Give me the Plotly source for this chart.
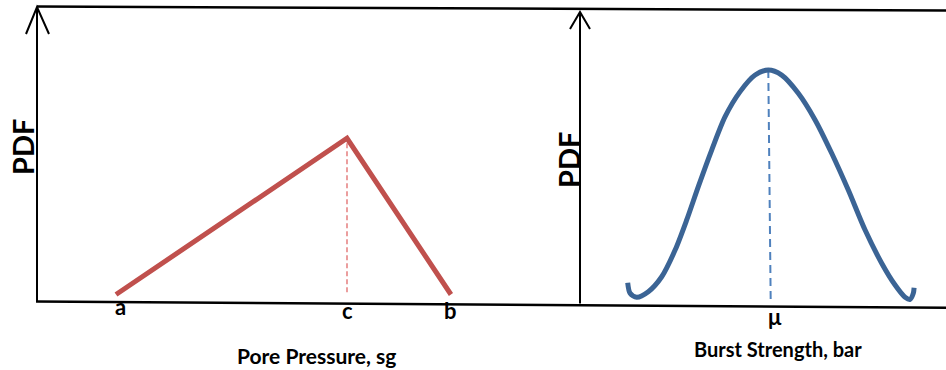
import plotly.graph_objects as go

# ---------------- data ----------------
# Left panel: triangular PDF of pore pressure
pore_labels = ["a", "c", "b"]
pore_sg = [1.00, 1.50, 1.725]          # a, c (mode), b  [sg]
pore_pdf = [0.0, 2.8, 0.0]             # PDF at a, c, b

# Right panel: bell-shaped PDF of burst strength (hand drawn curve)
burst_bar = [529.7, 530.9, 534.2, 540.0, 546.7, 553.4, 559.2, 565.0, 571.7,
             578.4, 585.9, 593.4, 600.0, 606.7, 615.0, 623.4, 631.7, 640.0,
             648.4, 656.7, 663.4, 668.4, 670.9, 672.5, 672.9]
burst_pdf = [0.075, 0.029, 0.012, 0.036, 0.101, 0.217, 0.348, 0.493, 0.652,
             0.797, 0.906, 0.978, 1.000, 0.978, 0.899, 0.783, 0.638, 0.478,
             0.304, 0.160, 0.065, 0.012, 0.003, 0.029, 0.053]
burst_mu = 600.0
burst_mu_pdf = 1.0
burst_label = "μ"

x_titles = ["Pore Pressure, sg", "Burst Strength, bar"]
y_title = "PDF"

# ---------------- layout helpers ----------------
W, H = 946, 370
def px(x):
    return x / W
def py(y):
    return 1 - y / H

RED = "#C0504D"
RED_DASH = "#E06A6A"
BLUE = "#3B6495"
BLUE_DASH = "#4F81BD"
FONT = "Lato"

# scales (pixels per unit) for the two panels
l_x0px, l_xscale = 116.0, 462.0      # pixel of a, px per sg
l_y0px, l_yscale = 294.5, 55.8       # pixel of pdf=0, px per unit
r_x0px, r_xscale = 768.3, 2.0        # pixel of mu, px per bar
r_y0px, r_yscale = 300.0, 230.0

lx_range = [pore_sg[0] + (0 - l_x0px) / l_xscale, pore_sg[0] + (W / 2 - l_x0px) / l_xscale]
ly_range = [(l_y0px - H) / l_yscale, l_y0px / l_yscale]
rx_range = [burst_mu + (W / 2 - r_x0px) / r_xscale, burst_mu + (W - r_x0px) / r_xscale]
ry_range = [(r_y0px - H) / r_yscale, r_y0px / r_yscale]

fig = go.Figure()

# left: dashed line at the mode c
fig.add_trace(go.Scatter(
    x=[pore_sg[1], pore_sg[1]], y=[0.04, pore_pdf[1]],
    mode="lines", line=dict(color=RED_DASH, width=1.3, dash="5px,3px"),
    xaxis="x", yaxis="y", hoverinfo="skip", showlegend=False))
# left: triangle
fig.add_trace(go.Scatter(
    x=pore_sg, y=pore_pdf, mode="lines",
    line=dict(color=RED, width=5),
    xaxis="x", yaxis="y", showlegend=False))

# right: dashed line at mu
fig.add_trace(go.Scatter(
    x=[burst_mu, burst_mu + 1.2], y=[burst_mu_pdf, -0.01],
    mode="lines", line=dict(color=BLUE_DASH, width=2, dash="8px,5px"),
    xaxis="x2", yaxis="y2", hoverinfo="skip", showlegend=False))
# right: bell curve
fig.add_trace(go.Scatter(
    x=burst_bar, y=burst_pdf, mode="lines",
    line=dict(color=BLUE, width=5, shape="spline", smoothing=0.8),
    xaxis="x2", yaxis="y2", showlegend=False))

hidden = dict(visible=False, showgrid=False, zeroline=False, fixedrange=True)
fig.update_layout(
    width=W, height=H,
    margin=dict(l=0, r=0, t=0, b=0),
    paper_bgcolor="white", plot_bgcolor="rgba(0,0,0,0)",
    xaxis=dict(domain=[0, 0.5], range=lx_range, **hidden),
    yaxis=dict(domain=[0, 1], range=ly_range, **hidden),
    xaxis2=dict(domain=[0.5, 1], range=rx_range, anchor="y2", **hidden),
    yaxis2=dict(domain=[0, 1], range=ry_range, anchor="x2", **hidden),
    showlegend=False,
)

# ---------------- frame lines and arrow axes ----------------
def seg(x0, y0, x1, y1, w=2):
    fig.add_shape(type="line", xref="paper", yref="paper",
                  x0=px(x0), y0=py(y0), x1=px(x1), y1=py(y1),
                  line=dict(color="black", width=w))

def path(points, w=2):
    d = "M " + " L ".join(f"{px(x)},{py(y)}" for x, y in points)
    fig.add_shape(type="path", xref="paper", yref="paper", path=d,
                  line=dict(color="black", width=w))

seg(37, 6.5, 946, 10.5, 2.5)        # top line
seg(36, 301.5, 946, 307.7, 2.5)     # common baseline
seg(37, 7, 37, 301, 2)              # left y axis
seg(580, 12, 580, 303.5, 2)         # right y axis
path([(26, 34), (37, 7), (49, 34)], 2)
path([(570, 29), (580, 12), (590, 29)], 2)

# ---------------- text ----------------
tick_y = [306.5, 310.5, 310]
for lab, xv, yy in zip(pore_labels, pore_sg, tick_y):
    fig.add_annotation(x=xv + (0.01 if lab == "a" else 0.0), y=py(yy), xref="x", yref="paper",
                       text=f"<b>{lab}</b>", showarrow=False,
                       font=dict(family=FONT, size=22, color="black"),
                       xanchor="center", yanchor="middle")
fig.add_annotation(x=burst_mu + 3.5, y=py(316), xref="x2", yref="paper",
                   text=f"<b>{burst_label}</b>", showarrow=False,
                   font=dict(family=FONT, size=22, color="black"),
                   xanchor="center", yanchor="middle")

fig.add_annotation(x=px(316), y=py(355), xref="paper", yref="paper",
                   text=f"<b>{x_titles[0]}</b>", showarrow=False, borderpad=0,
                   font=dict(family=FONT, size=21, color="black"),
                   xanchor="center", yanchor="middle")
fig.add_annotation(x=px(778), y=py(349), xref="paper", yref="paper",
                   text=f"<b>{x_titles[1]}</b>", showarrow=False,
                   font=dict(family=FONT, size=20, color="black"),
                   xanchor="center", yanchor="middle")

for cx, cy in [(22.5, 147.5), (568, 160)]:
    fig.add_annotation(x=px(cx), y=py(cy), xref="paper", yref="paper",
                       text=f"<b>{y_title}</b>", showarrow=False, textangle=-90,
                       font=dict(family=FONT, size=29, color="black"),
                       xanchor="center", yanchor="middle")

fig.write_html("out.html")
